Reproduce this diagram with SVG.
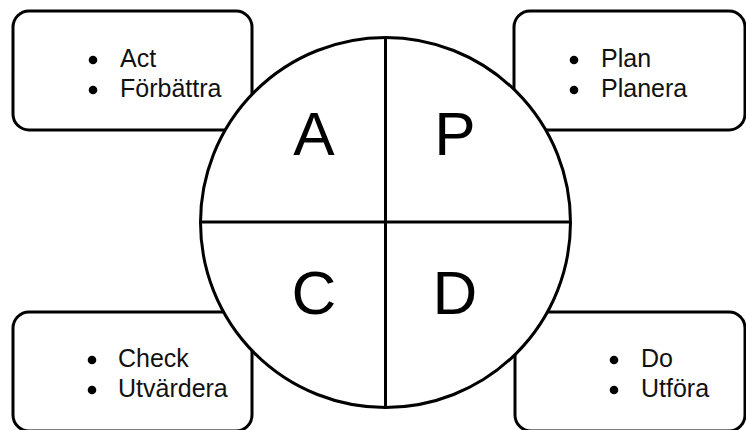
<svg xmlns="http://www.w3.org/2000/svg" width="746" height="430" viewBox="0 0 746 430">
<style>
.box{fill:#fff;stroke:#000;stroke-width:3}
.t{font-family:"Liberation Sans",Arial,sans-serif;font-size:25px;fill:#111}
.big{font-family:"Liberation Sans",Arial,sans-serif;font-size:62px;fill:#000;text-anchor:middle}
.dot{fill:#000}
.ln{stroke:#000;stroke-width:3;fill:none}
</style>
<rect width="746" height="430" fill="#fff"/>
<g id="box-act">
<rect class="box" x="13" y="11" width="239" height="119" rx="16"/>
<circle class="dot" cx="93" cy="60" r="4.3"/><text class="t" x="120" y="67">Act</text>
<circle class="dot" cx="93" cy="90" r="4.3"/><text class="t" x="120" y="97">Förbättra</text>
</g>
<g id="box-plan">
<rect class="box" x="514" y="11" width="231" height="119" rx="16"/>
<circle class="dot" cx="574" cy="60" r="4.3"/><text class="t" x="601" y="67">Plan</text>
<circle class="dot" cx="574" cy="90" r="4.3"/><text class="t" x="601" y="97">Planera</text>
</g>
<g id="box-check">
<rect class="box" x="13" y="312" width="239" height="119" rx="16"/>
<circle class="dot" cx="92" cy="360" r="4.3"/><text class="t" x="118" y="367">Check</text>
<circle class="dot" cx="92" cy="390" r="4.3"/><text class="t" x="118" y="397">Utvärdera</text>
</g>
<g id="box-do">
<rect class="box" x="515" y="312" width="230" height="119" rx="16"/>
<circle class="dot" cx="614" cy="360" r="4.3"/><text class="t" x="641" y="367">Do</text>
<circle class="dot" cx="614" cy="390" r="4.3"/><text class="t" x="641" y="397">Utföra</text>
</g>
<g id="cycle">
<circle cx="385.5" cy="222.5" r="185" fill="#fff" stroke="#000" stroke-width="3"/>
<line class="ln" x1="385.5" y1="37.5" x2="385.5" y2="407.5"/>
<line class="ln" x1="200.5" y1="222" x2="570.5" y2="222"/>
<text class="big" x="314" y="155">A</text>
<text class="big" x="455" y="155">P</text>
<text class="big" x="314" y="314">C</text>
<text class="big" x="455" y="314">D</text>
</g>
</svg>
